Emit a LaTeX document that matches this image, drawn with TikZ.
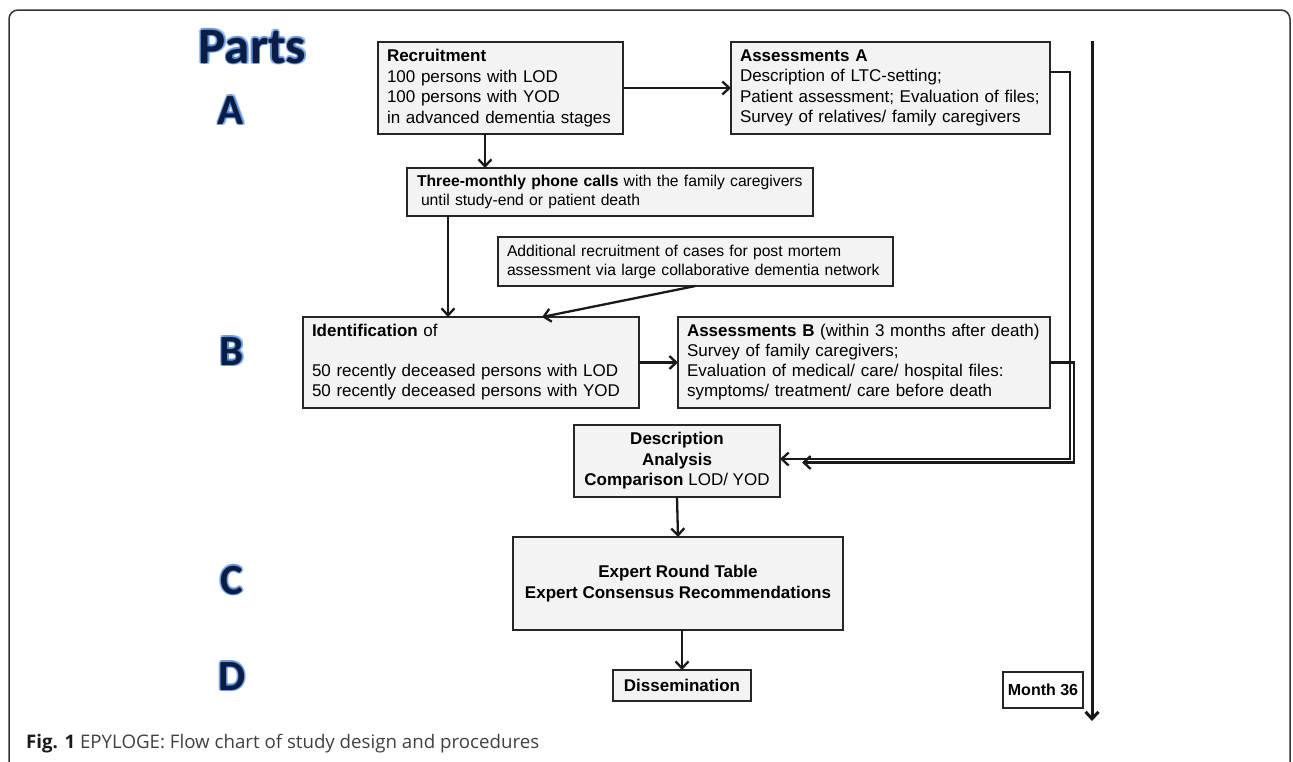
\documentclass[tikz,border=0pt]{standalone}
\usepackage{fontspec}
\setmainfont{Liberation Sans}
\newfontfamily\partsfont{Carlito}
\newfontfamily\capfont{Open Sans}
\usepackage{tikz}
\usetikzlibrary{arrows.meta,positioning}

\definecolor{partnavy}{HTML}{0C1D44}
\definecolor{partglow}{HTML}{2F6FD0}
\definecolor{boxgray}{HTML}{F3F3F3}

% big blue part letters with a soft glow
\newcommand{\partlabel}[4]{%
  \foreach \a in {0,45,...,315}
    \node[partglowstyle, font=\partsfont\bfseries\fontsize{#3}{#3}\selectfont, shift={(\a:1.8pt)}] (#1-glow-\a) at #2 {#4};
  \node[partstyle, font=\partsfont\bfseries\fontsize{#3}{#3}\selectfont] (#1) at #2 {#4};
}

\begin{document}
\begin{tikzpicture}[x=1pt, y=-1pt,
        lbox/.style={draw=black!85, line width=1.6pt, fill=boxgray, anchor=north west, outer sep=0pt,
            inner xsep=9pt, inner ysep=3pt, align=left, font=\fontsize{17}{20.5}\selectfont},
        cbox/.style={lbox, align=center},
        arr/.style={-{Straight Barb[length=7pt,width=13pt]}, line width=2.3pt, black!90},
        partglowstyle/.style={anchor=base, inner sep=0pt, text=partglow, opacity=0.35},
        partstyle/.style={anchor=base, inner sep=0pt, text=partnavy}]
    \useasboundingbox (0,0) rectangle (1293,761);
    \draw[line width=1.5pt, black!80, rounded corners=9pt] (9,790) -- (9,10) -- (1290,10) -- (1290,790);

    % part labels
    \partlabel{parts}{(252.5,63)}{51}{Parts}
    \partlabel{partA}{(231,124)}{43}{A}
    \partlabel{partB}{(232,365)}{43}{B}
    \partlabel{partC}{(232,594)}{43}{C}
    \partlabel{partD}{(232,690)}{43}{D}

    % boxes
    \node[lbox, text width=227pt, minimum height=92pt] (rec) at (378,42)
        {\textbf{Recruitment}\\100 persons with LOD\\100 persons with YOD\\in advanced dementia stages};
    \node[lbox, text width=301pt, minimum height=92pt] (assA) at (731,42)
        {\textbf{Assessments A}\\Description of LTC-setting;\\Patient assessment; Evaluation of files;\\Survey of relatives/ family caregivers};
    \node[lbox, inner xsep=10pt, text width=386pt, minimum height=48pt, font=\fontsize{15.7}{19.5}\selectfont] (three) at (407,168)
        {\mbox{\textbf{Three-monthly phone calls} with the family caregivers}\\\hspace*{4pt}until study-end or patient death};
    \node[lbox, text width=377pt, minimum height=49pt, font=\fontsize{15.7}{19}\selectfont] (add) at (498,237)
        {Additional recruitment of cases for post mortem\\\mbox{assessment via large collaborative dementia network}};
    \node[lbox, text width=318pt, minimum height=91pt, font=\fontsize{17}{20}\selectfont] (ident) at (303,317)
        {\textbf{Identification} of\\[20pt]50 recently deceased persons with LOD\\50 recently deceased persons with YOD};
    \node[lbox, text width=354pt, minimum height=91pt, font=\fontsize{17}{20}\selectfont] (assB) at (678,317)
        {\textbf{Assessments B} (within 3 months after death)\\Survey of family caregivers;\\Evaluation of medical/ care/ hospital files:\\symptoms/ treatment/ care before death};
    \node[cbox, minimum width=206pt, minimum height=72pt] (desc) at (574,425)
        {\textbf{Description}\\\textbf{Analysis}\\\textbf{Comparison} LOD/ YOD};
    \node[cbox, minimum width=330pt, minimum height=93pt] (expert) at (513,537)
        {\textbf{Expert Round Table}\\\textbf{Expert Consensus Recommendations}};
    \node[cbox, minimum width=138pt, minimum height=31pt] (diss) at (613,670) {\textbf{Dissemination}};
    \node[cbox, fill=white, inner xsep=2pt, minimum width=80pt, minimum height=36pt, font=\fontsize{16}{18}\selectfont] (month) at (1003,672)
        {\textbf{Month 36}};

    % time line
    \coordinate (mtop) at (1092,41);
    \coordinate (mbot) at (1092,721);
    \draw[arr, line width=3pt] (mtop) -- (mbot);

    % connectors
    \draw[arr] (rec.east) -- (assA.west);
    \draw[arr] ([xshift=-15.5pt]rec.south) -- ([xshift=-15.5pt]rec.south |- three.north);
    \draw[arr] ([xshift=-23pt]ident.north |- three.south) -- ([xshift=-23pt]ident.north);
    \draw[arr] (add.south) -- ([xshift=71pt]ident.north);
    \draw[arr] (ident.east) -- (assB.west);
    \draw[arr] ([yshift=16pt]assA.east) -- ++(20,0) |- ([yshift=2pt]desc.east);
    \draw[arr] (assB.east) -- ++(24,0) |- ([xshift=22pt,yshift=-1.5pt]desc.east);
    \draw[arr] (desc.south) -- (expert.north);
    \draw[arr] (diss.north |- expert.south) -- (diss.north);

    % caption
    \node[anchor=base west, inner sep=0pt, font=\capfont\fontsize{18.7}{22}\selectfont, text=black!75] (caption) at (26,748)
        {\textcolor{black!90}{\textbf{Fig. 1}} EPYLOGE: Flow chart of study design and procedures};
\end{tikzpicture}
\end{document}
